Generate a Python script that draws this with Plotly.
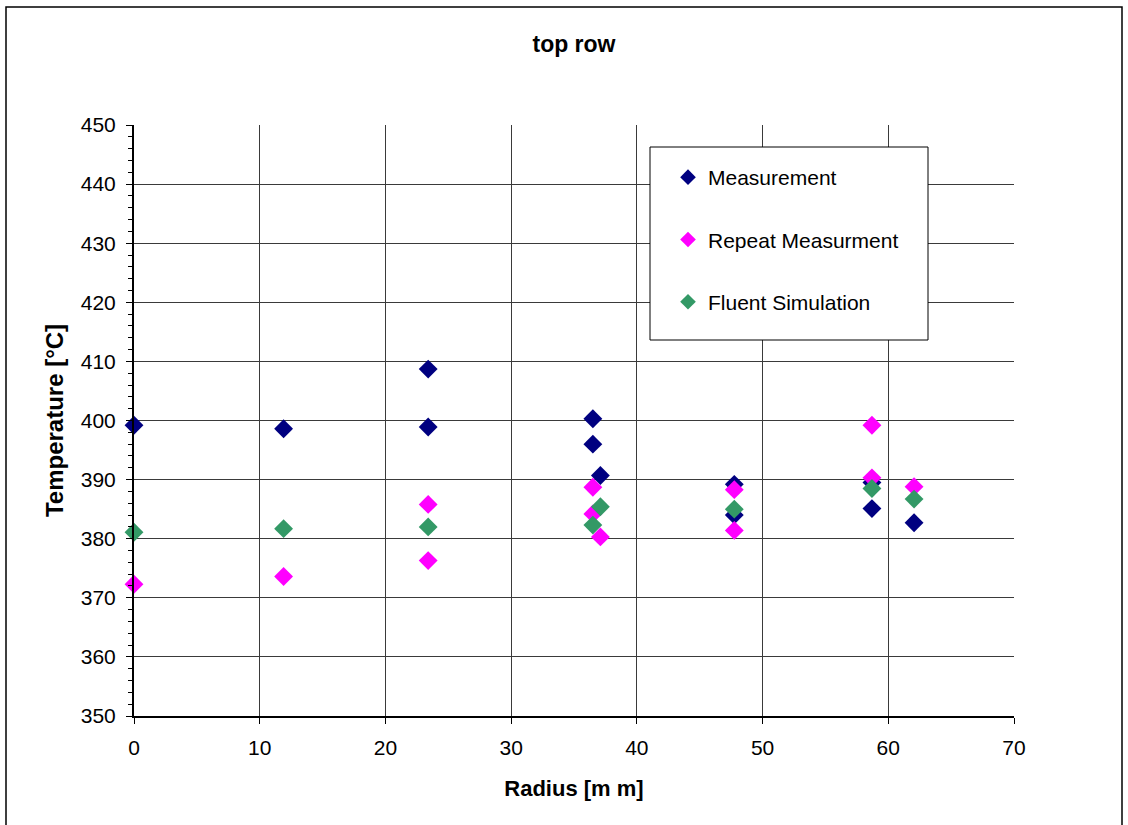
import plotly.graph_objects as go

# ---- data ----
meas_x = [0, 11.9, 23.4, 23.4, 36.5, 36.5, 37.1, 47.75, 47.75, 58.7, 58.7, 62.05]
meas_y = [399.2, 398.6, 408.7, 398.9, 400.3, 396.0, 390.7, 389.2, 384.0, 389.5, 385.1, 382.7]

rep_x = [0, 11.9, 23.4, 23.4, 36.5, 36.5, 37.1, 47.75, 47.75, 58.7, 58.7, 62.05]
rep_y = [372.3, 373.6, 385.8, 376.3, 388.7, 384.2, 380.3, 388.3, 381.4, 399.2, 390.3, 388.8]

flu_x = [0, 11.9, 23.4, 36.5, 37.1, 47.75, 58.7, 62.05]
flu_y = [381.1, 381.7, 382.0, 382.3, 385.4, 385.0, 388.5, 386.7]

series_names = ["Measurement", "Repeat Measurment", "Fluent Simulation"]
colors = ["#000080", "#FF00FF", "#339966"]

# ---- layout geometry (pixels) ----
W, H = 1128, 825
L, R, T, B = 134, 1014, 125, 716
pw, ph = R - L, B - T

def px(xp):
    return (xp - L) / pw

def py(yp):
    return 1 - (yp - T) / ph

FONT = "Liberation Sans, Arial, sans-serif"

fig = go.Figure()
for name, xs, ys, c, g in zip(series_names, [meas_x, rep_x, flu_x], [meas_y, rep_y, flu_y], colors, ["a", "b", "c"]):
    fig.add_trace(go.Scatter(
        x=xs, y=ys, mode="markers", name=name, legendgroup=g,
        marker=dict(symbol="diamond", size=14.5, color=c, line=dict(width=0)),
        cliponaxis=False,
    ))

fig.update_layout(
    width=W, height=H,
    margin=dict(l=L, r=W - R, t=T, b=H - B),
    paper_bgcolor="white", plot_bgcolor="white",
    font=dict(family=FONT, size=21, color="black"),
    title=dict(text="<b>top row</b>", x=0.5, xanchor="center", xref="paper",
               y=1 - 44 / H, yanchor="middle", font=dict(size=23, family=FONT)),
    showlegend=True,
    legend=dict(x=px(668), y=py(157), xanchor="left", yanchor="top",
                bgcolor="rgba(0,0,0,0)", borderwidth=0,
                font=dict(size=21, family=FONT), tracegroupgap=32,
                itemsizing="constant"),
    xaxis=dict(range=[0, 70], dtick=10, tick0=0, showgrid=True, gridcolor="#3a3a3a", gridwidth=1,
               showline=True, linecolor="black", linewidth=2, ticks="outside", ticklen=6,
               tickcolor="black", tickwidth=1, zeroline=False, ticklabelstandoff=6,
               title=dict(text="<b>Radius [m m]</b>", standoff=22, font=dict(size=22)),
               tickfont=dict(size=21)),
    yaxis=dict(range=[350, 450], dtick=10, tick0=350, showgrid=True, gridcolor="#3a3a3a", gridwidth=1,
               showline=True, linecolor="black", linewidth=2, ticks="outside", ticklen=6,
               tickcolor="black", tickwidth=1, zeroline=False, ticklabelstandoff=6,
               minor=dict(dtick=2, ticks="outside", ticklen=4, tickcolor="black", showgrid=False),
               title=dict(text="<b>Temperature [°C]</b>", standoff=10, font=dict(size=24)),
               tickfont=dict(size=21)),
    shapes=[
        # legend box
        dict(type="rect", xref="paper", yref="paper",
             x0=px(650), x1=px(928), y0=py(340), y1=py(147),
             line=dict(color="black", width=1), fillcolor="white", layer="above"),
        # outer chart border
        dict(type="rect", xref="paper", yref="paper",
             x0=px(6), x1=px(1122), y0=py(835), y1=py(7),
             line=dict(color="black", width=1.5), fillcolor="rgba(0,0,0,0)", layer="above"),
    ],
)

fig.write_html("out.html")
